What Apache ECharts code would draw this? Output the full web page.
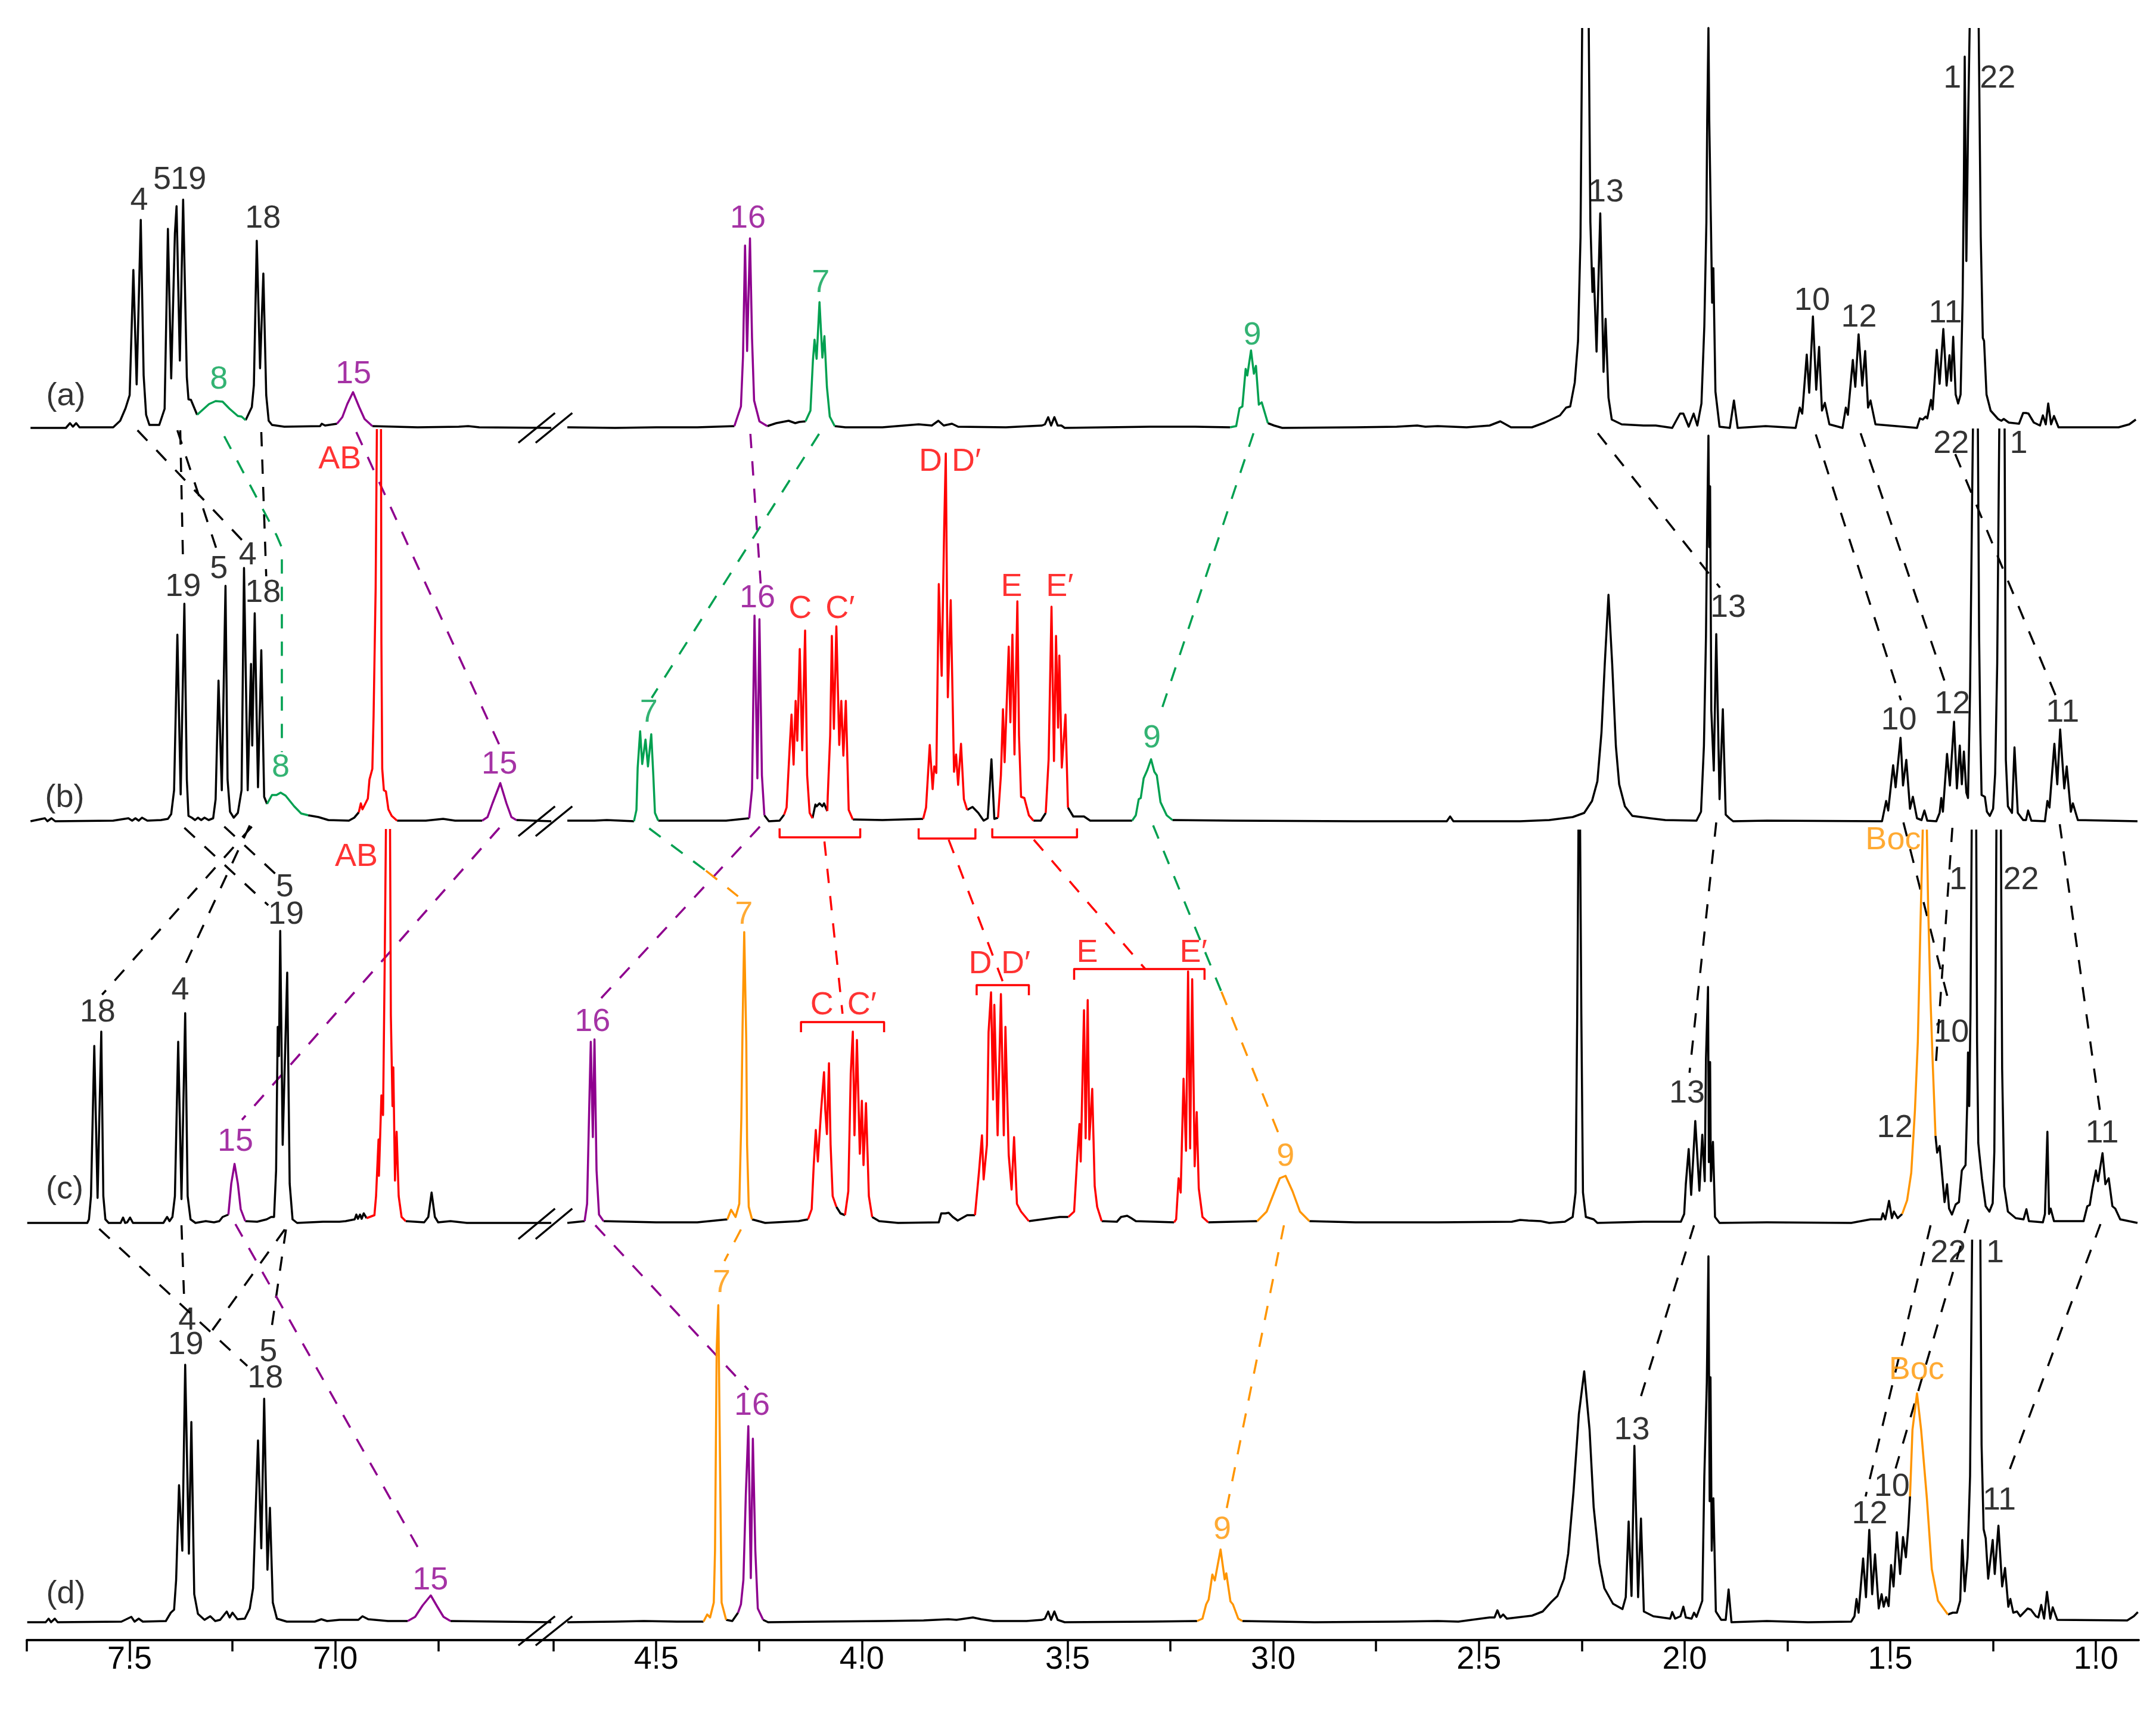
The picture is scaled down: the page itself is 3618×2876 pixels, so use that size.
<!DOCTYPE html>
<html>
<head>
<meta charset="utf-8">
<title>1H NMR stack</title>
<style>
html, body { margin: 0; height: 100%; background: #fff; }
#chart { width: 100%; height: 100%; }
</style>
<script src="https://cdn.jsdelivr.net/npm/echarts@6/dist/echarts.min.js"></script>
</head>
<body>
<div id="chart"></div>
<script>
// 每条谱线的基线高度 (stack offset of each trace)
var offsetA = 2034, offsetB = 1374, offsetC = 700, offsetD = 30;

// x axis ticks (ppm)
var majorTicks = [7.5, 7.0, 4.5, 4.0, 3.5, 3.0, 2.5, 2.0, 1.5, 1.0];
var minorTicks = [7.75, 7.25, 6.75, 4.75, 4.25, 3.75, 3.25, 2.75, 2.25, 1.75, 1.25];

// trace (a): [ppm, intensity], null = pen up
var specABlack = [[7.741,0],[7.655,0],[7.645,8],[7.638,2],[7.630,8],[7.622,1],[7.540,1],[7.523,12],[7.510,33],[7.500,55],[7.491,265],[7.483,73],[7.473,349],[7.466,88],[7.460,22],[7.452,5],[7.428,5],[7.415,32],[7.407,334],[7.399,83],[7.390,327],[7.386,372],[7.378,113],[7.370,383],[7.361,85],[7.357,48],[7.351,47],[7.336,22],
null,[7.218,13],[7.203,35],[7.198,72],[7.191,314],[7.183,100],[7.175,259],[7.168,55],[7.162,12],[7.154,5],[7.124,2],[7.037,3],[7.033,7],[7.025,4],[6.996,7],
null,[6.910,3],[6.800,1],[6.700,2],[6.677,3],[6.650,1],[6.475,0],
null,[4.716,1],[4.600,0],[4.500,1],[4.400,1],[4.310,3],
null,[4.230,3],[4.208,8],[4.178,12],[4.162,8],[4.152,10],[4.137,11],
null,[4.066,3],[4.040,1],[3.950,1],[3.862,6],[3.830,4],[3.814,12],[3.801,4],[3.781,7],[3.766,2],[3.650,1],[3.562,4],[3.555,6],[3.547,18],[3.540,4],[3.532,18],[3.524,4],[3.515,4],[3.507,0],[3.300,2],[3.190,2],[3.105,1],
null,[3.013,8],[2.998,4],[2.978,0],[2.800,1],[2.700,2],[2.650,4],[2.630,2],[2.600,3],[2.530,1],[2.474,4],[2.448,11],[2.422,1],[2.371,1],[2.340,9],[2.303,21],[2.288,34],[2.278,36],[2.267,76],[2.259,146],[2.253,320],[2.249,671],
null,[2.233,671],[2.229,345],[2.224,228],[2.221,268],[2.214,128],[2.205,360],[2.197,94],[2.192,183],[2.185,51],[2.177,14],[2.153,6],[2.100,4],[2.070,4],[2.030,0],[2.019,14],[2.011,24],[2.003,24],[1.990,2],[1.978,24],[1.969,4],[1.959,41],[1.952,171],[1.947,345],[1.945,516],[1.942,671],[1.940,516],[1.936,345],[1.933,210],[1.930,268],[1.925,61],[1.915,2],[1.890,0],[1.880,46],[1.871,0],[1.803,3],[1.730,0],[1.720,34],[1.714,24],[1.703,123],[1.697,59],[1.688,187],[1.680,64],[1.673,136],[1.666,29],[1.659,42],[1.648,6],[1.616,0],[1.608,34],[1.603,22],[1.591,114],[1.585,69],[1.577,157],[1.568,71],[1.561,129],[1.554,34],[1.548,46],[1.536,6],[1.435,0],[1.428,16],[1.421,14],[1.414,19],[1.410,16],[1.401,47],[1.397,31],[1.387,131],[1.380,74],[1.371,166],[1.363,71],[1.356,122],[1.352,79],[1.347,153],[1.341,56],[1.335,41],[1.329,56],[1.324,220],[1.321,420],[1.319,623],[1.315,280],[1.311,500],[1.307,671],
null,[1.285,671],[1.280,320],[1.275,151],[1.272,146],[1.266,56],[1.256,29],[1.238,15],[1.230,12],[1.224,15],[1.212,9],[1.187,7],[1.177,25],[1.170,25],[1.164,24],[1.151,9],[1.136,4],[1.129,21],[1.122,6],[1.116,41],[1.109,6],[1.102,20],[1.091,1],[0.945,1],[0.919,6],[0.903,14]];
var specAGreen = [[7.336,22],[7.307,40],[7.291,45],[7.274,44],[7.257,32],[7.237,20],[7.228,19],[7.218,13],
null,[4.137,11],[4.125,29],[4.119,113],[4.115,148],[4.110,116],[4.103,211],[4.096,118],[4.091,154],[4.085,69],[4.078,19],[4.066,3],
null,[3.105,1],[3.090,3],[3.082,33],[3.075,36],[3.067,99],[3.063,88],[3.054,130],[3.047,91],[3.042,104],[3.035,39],[3.028,43],[3.013,8]];
var specAPurple = [[6.996,7],[6.983,18],[6.971,40],[6.957,60],[6.942,35],[6.929,15],[6.910,3],
null,[4.310,3],[4.294,36],[4.289,119],[4.284,306],[4.279,129],[4.272,318],[4.267,150],[4.262,46],[4.249,11],[4.230,3]];

// trace (b)
var specBBlack = [[7.741,0],[7.706,5],[7.700,0],[7.690,5],[7.681,0],[7.540,1],[7.503,5],[7.494,1],[7.486,5],[7.478,1],[7.470,6],[7.457,1],[7.424,2],[7.407,4],[7.399,12],[7.392,52],[7.384,313],[7.376,45],[7.367,365],[7.361,70],[7.357,9],[7.349,6],[7.341,2],[7.334,6],[7.326,2],[7.318,6],[7.308,2],[7.297,5],[7.291,37],[7.284,236],[7.276,52],[7.267,395],[7.262,70],[7.256,16],[7.247,6],[7.237,14],[7.228,52],[7.222,425],[7.213,52],[7.205,264],[7.202,127],[7.196,349],[7.188,57],[7.180,287],[7.173,41],[7.166,29],
null,[7.066,10],[7.041,7],[7.017,2],[6.967,1],[6.954,6],[6.943,15],
null,[6.850,1],[6.780,1],[6.738,4],[6.709,1],[6.643,1],
null,[6.560,2],[6.475,0],
null,[4.716,1],[4.650,1],[4.620,2],[4.554,0],
null,[4.495,1],[4.400,1],[4.330,1],[4.274,5],
null,[4.237,10],[4.226,0],[4.200,1],[4.189,11],
null,[4.120,5],[4.113,28],[4.110,25],[4.103,30],[4.096,25],[4.092,30],[4.084,17],
null,[4.022,3],[3.950,2],[3.851,4],
null,[3.744,19],[3.731,24],[3.717,14],[3.704,1],[3.694,5],[3.685,104],[3.678,4],[3.669,6],
null,[3.583,1],[3.565,1],[3.553,14],
null,[3.499,23],[3.486,8],[3.460,8],[3.445,1],[3.343,1],
null,[3.245,2],[3.100,1],[2.800,0],[2.578,0],[2.570,8],[2.562,0],[2.400,0],[2.329,2],[2.272,7],[2.244,14],[2.225,34],[2.212,67],[2.202,149],[2.194,264],[2.185,380],[2.176,264],[2.167,126],[2.159,62],[2.145,25],[2.127,9],[2.084,5],[2.047,2],[1.971,1],[1.960,16],[1.953,126],[1.948,310],[1.945,500],[1.942,647],[1.940,460],[1.938,562],[1.935,186],[1.929,85],[1.923,314],[1.915,37],[1.907,188],[1.900,11],[1.891,5],[1.882,0],[1.800,1],[1.520,0],[1.510,34],[1.505,18],[1.493,94],[1.487,57],[1.475,140],[1.469,60],[1.461,103],[1.452,21],[1.445,41],[1.435,5],[1.424,2],[1.417,18],[1.410,1],[1.388,0],[1.380,14],[1.376,39],[1.372,16],[1.362,113],[1.355,60],[1.345,167],[1.338,55],[1.331,127],[1.326,62],[1.321,117],[1.315,48],[1.311,39],[1.306,218],[1.301,539],[1.299,659],
null,[1.287,659],[1.284,310],[1.281,150],[1.278,44],[1.270,41],[1.265,16],[1.258,9],[1.250,21],[1.245,80],[1.240,264],[1.235,659],
null,[1.222,659],[1.220,300],[1.219,103],[1.214,25],[1.204,14],[1.198,124],[1.190,14],[1.177,2],[1.170,2],[1.165,18],[1.157,1],[1.124,0],[1.118,34],[1.113,23],[1.101,130],[1.094,62],[1.087,154],[1.077,55],[1.071,92],[1.061,16],[1.056,30],[1.044,2],[0.899,0]];
var specBGreen = [[7.166,29],[7.154,44],[7.143,44],[7.133,48],[7.121,43],[7.100,25],[7.083,13],[7.066,10],
null,[4.554,0],[4.548,19],[4.545,90],[4.539,151],[4.534,96],[4.526,137],[4.520,92],[4.512,146],[4.507,77],[4.503,14],[4.495,1],
null,[3.343,1],[3.334,10],[3.327,37],[3.322,39],[3.315,72],[3.306,86],[3.297,104],[3.289,83],[3.283,77],[3.274,32],[3.259,10],[3.245,2]];
var specBPurple = [[6.643,1],[6.630,7],[6.618,30],[6.599,64],[6.584,30],[6.572,7],[6.560,2],
null,[4.274,5],[4.267,54],[4.261,345],[4.254,72],[4.249,339],[4.243,77],[4.237,10]];
var specBRed = [[6.943,15],[6.938,30],[6.934,20],[6.921,38],[6.917,70],[6.910,88],[6.907,177],[6.902,391],[6.899,658],
null,[6.889,658],[6.888,300],[6.886,88],[6.882,52],[6.877,50],[6.875,40],[6.871,20],[6.863,9],[6.850,1],
null,[4.189,11],[4.183,23],[4.175,130],[4.171,179],[4.166,95],[4.161,202],[4.157,135],[4.151,289],[4.145,119],[4.138,320],[4.133,77],[4.127,14],[4.120,5],
null,[4.084,17],[4.083,41],[4.077,144],[4.073,311],[4.068,155],[4.062,327],[4.055,128],[4.050,202],[4.045,110],[4.039,202],[4.032,19],[4.022,3],
null,[3.851,4],[3.844,23],[3.835,128],[3.828,54],[3.824,92],[3.819,81],[3.813,398],[3.806,244],[3.800,488],[3.796,617],[3.791,208],[3.784,371],[3.776,83],[3.771,112],[3.766,61],[3.759,130],[3.752,37],[3.744,19],
null,[3.669,6],[3.662,77],[3.657,188],[3.653,99],[3.643,293],[3.639,166],[3.634,313],[3.629,112],[3.622,369],[3.618,144],[3.613,41],[3.605,39],[3.594,10],[3.583,1],
null,[3.553,14],[3.546,104],[3.539,360],[3.533,101],[3.528,311],[3.523,157],[3.520,278],[3.514,90],[3.505,179],[3.499,23]];

// trace (c)
var specCBlack = [[7.749,0],[7.603,0],[7.599,6],[7.594,45],[7.586,297],[7.578,42],[7.569,321],[7.564,45],[7.559,6],[7.551,0],[7.522,0],[7.516,9],[7.511,0],[7.506,1],[7.499,9],[7.492,0],[7.418,0],[7.409,10],[7.403,3],[7.396,10],[7.390,45],[7.382,304],[7.374,40],[7.365,352],[7.359,45],[7.352,6],[7.340,0],[7.315,3],[7.295,1],[7.282,3],[7.274,10],[7.260,14],
null,[7.219,3],[7.190,2],[7.167,6],[7.156,10],[7.149,10],[7.144,88],[7.140,329],[7.137,280],[7.134,490],[7.128,131],[7.117,420],[7.111,66],[7.104,6],[7.093,0],[7.030,2],[6.990,2],[6.975,3],[6.953,6],[6.949,14],[6.945,7],[6.940,14],[6.936,7],[6.931,16],[6.924,8],
null,[6.829,3],[6.784,1],[6.774,10],[6.766,51],[6.758,10],[6.750,1],[6.720,3],[6.680,0],[6.475,0],
null,[4.716,0],[4.674,3],
null,[4.628,3],[4.500,1],[4.400,1],[4.327,6],
null,[4.267,6],[4.235,0],[4.154,3],[4.131,6],
null,[4.062,27],[4.052,16],[4.041,13],
null,[3.975,10],[3.958,3],[3.912,0],[3.813,1],[3.807,16],[3.797,16],[3.789,17],[3.779,10],[3.767,4],[3.744,13],[3.725,13],
null,[3.594,3],[3.519,10],[3.498,10],
null,[3.417,3],[3.380,2],[3.370,10],[3.355,12],[3.345,8],[3.334,3],[3.241,1],
null,[3.158,1],[3.039,3],
null,[2.912,3],[2.800,1],[2.600,1],[2.420,2],[2.400,5],[2.380,4],[2.350,3],[2.329,0],[2.291,2],[2.272,10],[2.265,51],[2.261,350],[2.258,660],
null,[2.254,660],[2.251,350],[2.247,51],[2.240,10],[2.221,6],[2.212,0],[2.100,2],[2.009,2],[2.001,15],[1.997,65],[1.990,124],[1.984,47],[1.974,171],[1.964,54],[1.957,148],[1.951,70],[1.948,276],[1.943,396],[1.941,102],[1.938,270],[1.936,70],[1.931,136],[1.926,10],[1.915,0],[1.800,1],[1.595,0],[1.548,6],[1.522,6],[1.518,16],[1.512,6],[1.503,37],[1.496,8],[1.491,19],[1.482,8],[1.471,15],
null,[1.390,146],[1.386,118],[1.380,129],[1.373,74],[1.368,35],[1.362,65],[1.357,24],[1.350,14],[1.341,31],[1.333,35],[1.326,88],[1.317,97],[1.313,198],[1.311,286],[1.308,196],[1.305,350],[1.302,660],
null,[1.291,660],[1.289,304],[1.286,134],[1.283,113],[1.277,74],[1.268,28],[1.259,19],[1.251,33],[1.247,120],[1.244,396],[1.242,660],
null,[1.231,660],[1.228,258],[1.223,61],[1.214,19],[1.195,8],[1.176,6],[1.169,23],[1.163,3],[1.129,1],[1.124,15],[1.118,153],[1.114,15],[1.110,24],[1.102,3],[1.030,3],[1.021,28],[1.015,30],[1.009,56],[1.000,88],[0.995,70],[0.984,117],[0.977,65],[0.969,75],[0.960,28],[0.953,24],[0.941,6],[0.899,0]];
var specCPurple = [[7.260,14],[7.253,66],[7.245,99],[7.237,66],[7.230,23],[7.219,3],
null,[4.674,3],[4.668,32],[4.662,218],[4.659,304],[4.654,144],[4.650,308],[4.645,88],[4.639,14],[4.628,3]];
var specCRed = [[6.924,8],[6.905,13],[6.901,45],[6.895,140],[6.894,79],[6.888,214],[6.884,181],[6.880,435],[6.877,661],
null,[6.867,661],[6.865,348],[6.861,196],[6.859,261],[6.855,71],[6.851,153],[6.846,45],[6.839,10],[6.829,3],
null,[4.131,6],[4.122,23],[4.117,97],[4.112,156],[4.107,103],[4.099,190],[4.092,253],[4.089,190],[4.085,149],[4.080,268],[4.076,131],[4.071,45],[4.062,27],
null,[4.041,13],[4.033,53],[4.027,251],[4.022,321],[4.018,147],[4.012,307],[4.005,116],[4.000,205],[3.996,97],[3.990,201],[3.983,45],[3.975,10],
null,[3.725,13],[3.715,88],[3.708,147],[3.704,73],[3.696,131],[3.692,320],[3.686,387],[3.681,207],[3.678,366],[3.670,147],[3.662,384],[3.655,147],[3.651,329],[3.643,114],[3.636,56],[3.630,144],[3.623,32],[3.613,19],[3.594,3],
null,[3.498,10],[3.484,19],[3.477,103],[3.471,166],[3.468,103],[3.460,357],[3.456,142],[3.451,374],[3.447,140],[3.440,225],[3.434,62],[3.428,27],[3.417,3],
null,[3.241,1],[3.236,6],[3.230,75],[3.225,51],[3.218,242],[3.212,121],[3.207,422],[3.202,125],[3.197,409],[3.191,95],[3.186,186],[3.181,58],[3.172,10],[3.158,1]];
var specCOrange = [[4.327,6],[4.318,22],[4.307,10],[4.298,32],[4.293,175],[4.290,330],[4.286,488],[4.281,305],[4.279,131],[4.275,27],[4.267,6],
null,[3.039,3],[3.016,19],[2.999,49],[2.984,75],[2.970,79],[2.953,53],[2.935,19],[2.912,3],
null,[1.471,15],[1.459,38],[1.449,84],[1.440,189],[1.433,304],[1.427,488],[1.421,660],
null,[1.411,660],[1.408,534],[1.402,373],[1.397,272],[1.395,270],[1.390,146]];

// trace (d)
var specDBlack = [[7.749,0],[7.704,0],[7.697,6],[7.691,0],[7.682,6],[7.675,0],[7.520,1],[7.496,9],[7.488,1],[7.478,6],[7.468,1],[7.412,2],[7.400,16],[7.392,21],[7.387,71],[7.380,230],[7.372,120],[7.365,432],[7.356,115],[7.350,336],[7.343,47],[7.334,14],[7.318,4],[7.304,10],[7.292,2],[7.280,4],[7.264,18],[7.257,8],[7.250,16],[7.238,5],[7.220,6],[7.208,23],[7.200,57],[7.188,305],[7.180,124],[7.173,375],[7.165,88],[7.159,192],[7.152,33],[7.142,6],[7.118,1],[7.050,1],[7.034,5],[7.020,2],[6.990,4],[6.944,4],[6.934,10],[6.920,5],[6.872,2],[6.824,2],
null,[6.720,2],[6.600,1],[6.475,0],
null,[4.716,0],[4.600,1],[4.530,2],[4.450,1],[4.385,1],
null,[4.330,4],[4.315,2],[4.301,16],
null,[4.240,4],[4.228,0],[4.100,1],[3.950,2],[3.850,3],[3.790,5],[3.770,4],[3.730,8],[3.710,5],[3.680,2],[3.600,2],[3.562,4],[3.555,6],[3.547,18],[3.540,4],[3.532,18],[3.524,4],[3.507,0],[3.300,1],[3.185,2],
null,[3.075,2],[2.900,0],[2.700,1],[2.600,2],[2.550,1],[2.474,8],[2.462,8],[2.455,20],[2.448,8],[2.441,13],[2.432,6],[2.371,11],[2.345,18],[2.324,34],[2.309,44],[2.293,73],[2.283,115],[2.270,219],[2.257,349],[2.244,421],[2.231,323],[2.221,193],[2.207,99],[2.195,57],[2.174,31],[2.151,22],[2.143,42],[2.136,169],[2.129,44],[2.122,296],[2.113,42],[2.106,174],[2.099,18],[2.076,10],[2.035,6],[2.030,17],[2.023,6],[2.010,10],[2.003,26],[1.997,8],[1.983,6],[1.977,16],[1.971,9],[1.962,26],[1.957,36],[1.952,245],[1.946,401],[1.942,614],[1.939,203],[1.937,411],[1.934,120],[1.930,208],[1.924,18],[1.911,4],[1.900,4],[1.893,55],[1.886,0],[1.800,2],[1.700,0],[1.595,1],[1.587,10],[1.582,39],[1.577,16],[1.566,107],[1.559,42],[1.551,155],[1.544,47],[1.537,114],[1.528,23],[1.521,47],[1.516,26],[1.510,42],[1.504,27],[1.498,96],[1.492,60],[1.484,151],[1.476,81],[1.469,143],[1.462,109],[1.456,161],[1.452,211],
null,[1.360,13],[1.348,16],[1.338,16],[1.330,36],[1.325,138],[1.319,52],[1.312,109],[1.306,245],[1.301,642],
null,[1.281,642],[1.278,297],[1.273,156],[1.268,141],[1.262,73],[1.251,138],[1.246,81],[1.237,162],[1.228,60],[1.221,91],[1.213,26],[1.208,39],[1.201,16],[1.192,18],[1.184,10],[1.166,23],[1.158,21],[1.146,10],[1.140,8],[1.133,29],[1.126,6],[1.119,51],[1.111,6],[1.105,25],[1.094,4],[0.924,3],[0.908,10],[0.898,17]];
var specDPurple = [[6.824,2],[6.806,9],[6.788,28],[6.768,45],[6.752,26],[6.737,9],[6.720,2],
null,[4.301,16],[4.294,30],[4.288,71],[4.282,216],[4.276,329],[4.270,74],[4.265,308],[4.259,120],[4.253,23],[4.240,4]];
var specDOrange = [[4.385,1],[4.376,13],[4.369,8],[4.360,33],[4.357,120],[4.353,457],[4.349,532],[4.344,216],[4.341,33],[4.330,4],
null,[3.185,2],[3.172,6],[3.163,30],[3.157,38],[3.148,80],[3.142,70],[3.128,122],[3.118,72],[3.114,82],[3.104,35],[3.098,30],[3.085,6],[3.075,2],
null,[1.452,211],[1.446,323],[1.435,384],[1.425,323],[1.411,208],[1.399,89],[1.384,36],[1.360,13]];

// dashed links between traces, two ends each: [ppm, height]
var linksBlack = [
    [[7.481,2030],[7.223,1843]], [[7.384,2030],[7.290,1833]], [[7.377,2030],[7.370,1801]], [[7.180,2027],[7.168,1785]],
    [[2.211,2025],[1.914,1766]], [[1.681,2023],[1.474,1577]], [[1.572,2025],[1.366,1605]], [[1.342,1990],[1.095,1580]],
    [[7.367,1363],[7.163,1233]], [[7.270,1365],[7.146,1286]], [[7.208,1367],[7.364,1135]], [[7.203,1365],[7.567,1083]],
    [[1.923,1372],[1.988,952]], [[1.468,1372],[1.356,1066]], [[1.349,1363],[1.389,968]], [[1.088,1369],[0.990,887]],
    [[7.574,690],[7.214,460]], [[7.374,696],[7.368,581]], [[7.123,689],[7.299,520]], [[7.120,689],[7.154,528]],
    [[1.977,696],[2.107,407]], [[1.402,696],[1.560,241]], [[1.310,706],[1.487,288]], [[0.989,698],[1.213,280]]
];
var linksGreen = [
    [[7.270,2020],[7.143,1854],[7.130,1833],[7.130,1490]], [[4.104,2024],[4.511,1581]], [[3.048,2025],[3.274,1556]],
    [[4.517,1362],[4.379,1291]], [[3.292,1367],[3.126,1088]]
];
var linksPurple = [
    [[6.949,2027],[6.596,1494]], [[4.271,2024],[4.246,1773]], [[6.601,1363],[7.227,873]], [[4.248,1365],[4.638,1074]],
    [[7.243,698],[6.794,149]], [[4.648,696],[4.276,420]]
];
var linksRed = [[[4.091,1340],[4.047,1051]], [[3.789,1343],[3.657,1104]], [[3.582,1343],[3.311,1126]]];
var linksOrange = [[[4.379,1291],[4.301,1248]], [[3.126,1088],[2.987,850]], [[4.294,689],[4.334,636]], [[2.974,696],[3.114,218]]];

// red brackets under / over the multiplets
var brackets = [
    [[4.200,1362],[4.200,1347],[4.004,1347],[4.004,1362]],
    [[3.862,1362],[3.862,1345],[3.724,1345],[3.724,1362]],
    [[3.683,1362],[3.683,1347],[3.477,1347],[3.477,1362]],
    [[4.148,1020],[4.148,1037],[3.946,1037],[3.946,1020]],
    [[3.721,1082],[3.721,1099],[3.594,1099],[3.594,1082]],
    [[3.484,1108],[3.484,1126],[3.167,1126],[3.167,1108]]
];

// axis break slashes on each baseline
var breakMarks = [
    [[6.555,2009],[4.746,2059]], [[6.513,2009],[4.704,2059]],
    [[6.555,1349],[4.746,1399]], [[6.513,1349],[4.704,1399]],
    [[6.555,673],[4.746,724]], [[6.513,673],[4.704,724]],
    [[6.555,-9],[4.746,40]], [[6.513,-9],[4.704,40]]
];

// peak labels: [text, ppm, height]
var labelsBlack = [
    ['(a)',7.655,2087],['4',7.477,2415],['5',7.421,2450],['19',7.357,2450],['18',7.176,2385],['13',2.191,2429],['10',1.690,2247],['12',1.576,2219],['11',1.366,2226],['1',1.349,2620],['22',1.239,2620],
    ['22',1.352,2007],['1',1.188,2007],['19',7.370,1767],['5',7.283,1797],['4',7.213,1820],['18',7.176,1757],['13',1.894,1732],['10',1.479,1543],['12',1.349,1570],['11',1.081,1556],['(b)',7.658,1413],
    ['5',7.123,1263],['19',7.120,1217],['18',7.578,1053],['4',7.377,1090],['13',1.994,917],['10',1.352,1019],['12',1.489,859],['11',0.985,850],['1',1.335,1275],['22',1.182,1275],['(c)',7.658,756],
    ['4',7.360,536],['19',7.364,495],['5',7.163,483],['18',7.170,439],['22',1.359,649],['1',1.245,649],['13',2.128,352],['10',1.496,257],['12',1.550,211],['11',1.235,234],['(d)',7.655,77]
];
var labelsGreen = [['8',7.283,2115],['7',4.100,2277],['9',3.051,2189],['8',7.133,1464],['7',4.518,1556],['9',3.295,1513]];
var labelsPurple = [['15',6.956,2124],['16',4.277,2385],['15',6.601,1469],['16',4.254,1748],['16',4.655,1037],['15',7.243,836],['16',4.267,393],['15',6.769,100]];
var labelsRed = [
    ['AB',6.989,1981],['D',3.833,1977],['D\u2032',3.746,1977],['C',4.150,1730],['C\u2032',4.053,1730],['E',3.636,1767],['E\u2032',3.519,1767],
    ['AB',6.949,1314],['E',3.452,1153],['E\u2032',3.194,1153],['D',3.712,1134],['D\u2032',3.626,1134],['C',4.097,1065],['C\u2032',4.000,1065]
];
var labelsOrange = [['Boc',1.493,1342],['7',4.287,1217],['9',2.970,811],['7',4.341,599],['Boc',1.436,453],['9',3.124,185]];

var BLACK = '#000000', GREEN = '#00a050', PURPLE = '#8e008e', RED = '#ff0000', ORANGE = '#ff9500';
var FONT = '"Liberation Sans Narrow", "Liberation Sans", sans-serif';

(function () {
    var myChart = echarts.init(document.getElementById('chart'));

    function lineSeries(data, color, extra) {
        var s = {
            type: 'line',
            data: data,
            showSymbol: false,
            symbol: 'none',
            silent: true,
            clip: false,
            lineStyle: { color: color, width: 3.5, join: 'round' }
        };
        for (var k in extra) { s[k] = extra[k]; }
        return s;
    }

    // add the stack offset, null becomes a gap
    function trace(points, offset, color) {
        var data = points.map(function (p) {
            return p ? [p[0], p[1] + offset] : ['-', '-'];
        });
        return lineSeries(data, color);
    }

    // join several polylines into one series with gaps
    function joined(paths) {
        var data = [];
        paths.forEach(function (path, i) {
            if (i) { data.push(['-', '-']); }
            path.forEach(function (p) { data.push(p); });
        });
        return data;
    }

    function dashed(paths, color) {
        var s = lineSeries(joined(paths), color);
        s.lineStyle.type = [24, 22];
        return s;
    }

    function labelSeries(rows, color) {
        return {
            type: 'scatter',
            symbolSize: 1,
            silent: true,
            itemStyle: { color: 'transparent' },
            data: rows.map(function (r) { return { name: r[0], value: [r[1], r[2]] }; }),
            label: {
                show: true,
                position: 'inside',
                formatter: '{b}',
                color: color,
                fontFamily: FONT,
                fontSize: 54
            },
            z: 5
        };
    }

    var series = [
        dashed(linksBlack, BLACK), dashed(linksGreen, GREEN), dashed(linksPurple, PURPLE),
        dashed(linksRed, RED), dashed(linksOrange, ORANGE),
        lineSeries(joined(brackets), RED),
        lineSeries(joined(breakMarks), BLACK),
        trace(specABlack, offsetA, BLACK), trace(specAGreen, offsetA, GREEN), trace(specAPurple, offsetA, PURPLE),
        trace(specBBlack, offsetB, BLACK), trace(specBGreen, offsetB, GREEN), trace(specBPurple, offsetB, PURPLE), trace(specBRed, offsetB, RED),
        trace(specCBlack, offsetC, BLACK), trace(specCPurple, offsetC, PURPLE), trace(specCRed, offsetC, RED), trace(specCOrange, offsetC, ORANGE),
        trace(specDBlack, offsetD, BLACK), trace(specDPurple, offsetD, PURPLE), trace(specDOrange, offsetD, ORANGE),
        labelSeries(labelsBlack, BLACK), labelSeries(labelsGreen, GREEN), labelSeries(labelsPurple, PURPLE),
        labelSeries(labelsRed, RED), labelSeries(labelsOrange, ORANGE)
    ];

    function ppmAxis(ticks, tickLength, showLabels) {
        return {
            type: 'value',
            inverse: true,
            position: 'bottom',
            min: 0.896,
            max: 7.75,
            breaks: [{ start: 4.75, end: 6.47, gap: 0 }],
            breakArea: { show: false },
            splitLine: { show: false },
            axisLine: { show: true, onZero: false, lineStyle: { color: BLACK, width: 3.5 } },
            axisTick: { show: true, customValues: ticks, length: tickLength, lineStyle: { color: BLACK, width: 3.5 } },
            axisLabel: {
                show: showLabels,
                customValues: ticks,
                margin: 6,
                color: BLACK,
                fontFamily: FONT,
                fontSize: 54,
                formatter: function (v) { return v.toFixed(1); }
            }
        };
    }

    var option = {
        animation: false,
        backgroundColor: '#ffffff',
        grid: { left: 45, right: 29, top: 0, bottom: 124 },
        xAxis: [ppmAxis(majorTicks, 36, true), ppmAxis(minorTicks, 19, false)],
        yAxis: { type: 'value', min: 0, max: 2752, show: false, splitLine: { show: false } },
        series: series
    };
    myChart.setOption(option);

    window.addEventListener('resize', function () {
        myChart.resize();
    });
})();
</script>
</body>
</html>
